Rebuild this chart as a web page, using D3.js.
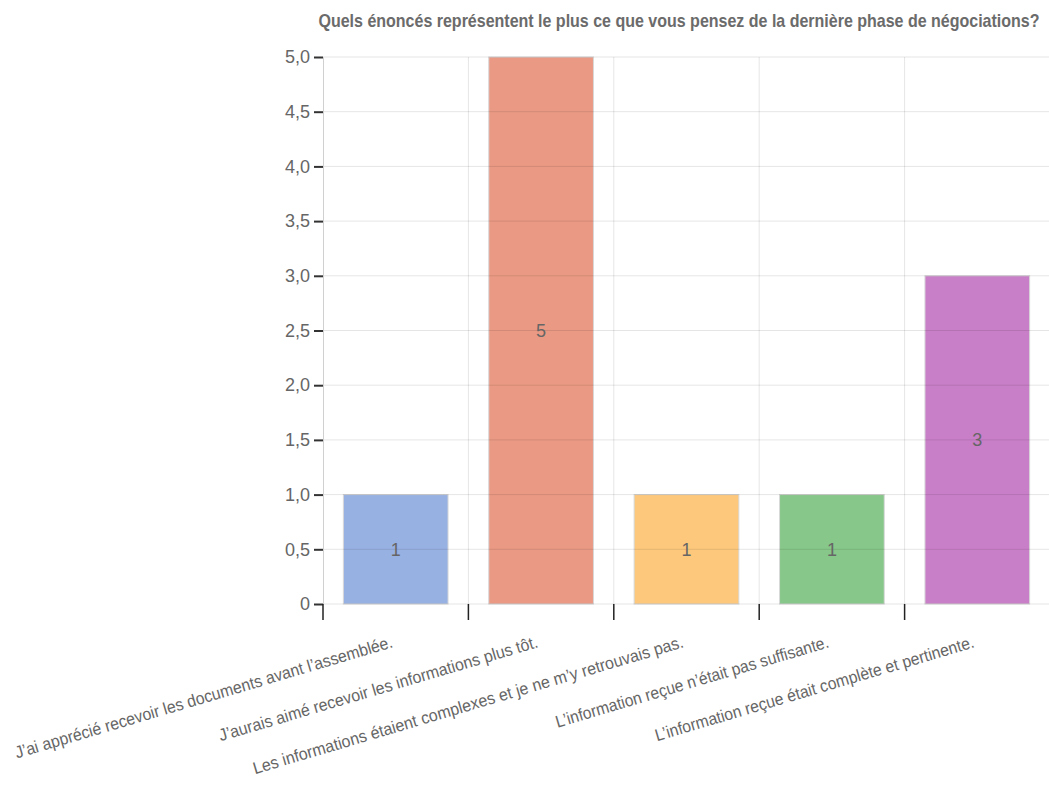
<!DOCTYPE html>
<html>
<head>
<meta charset="utf-8">
<script src="https://cdn.jsdelivr.net/npm/d3@7"></script>
<style>
  html, body { margin: 0; padding: 0; background: #fff; }
  svg { display: block; font-family: 'Liberation Sans Narrow', 'Arial Narrow', 'Liberation Sans', sans-serif; }
</style>
</head>
<body>
<svg id="chart" width="1049" height="786"></svg>
<script>
const title = "Quels énoncés représentent le plus ce que vous pensez de la dernière phase de négociations?";
const categories = [
  "J\u2019ai apprécié recevoir les documents avant l\u2019assemblée.",
  "J\u2019aurais aimé recevoir les informations plus tôt.",
  "Les informations étaient complexes et je ne m\u2019y retrouvais pas.",
  "L\u2019information reçue n\u2019était pas suffisante.",
  "L\u2019information reçue était complète et pertinente."
];
const values = [1, 5, 1, 1, 3];
const colors = ["#98b1e3", "#ea9a84", "#fdc87c", "#87c789", "#c97fc8"];
const yTicks = [0, 0.5, 1, 1.5, 2, 2.5, 3, 3.5, 4, 4.5, 5];
const labelLengths = [393, 332, 448, 284, 332];

(function draw() {
const svg = d3.select("#chart");
const pLeft = 323, pRight = 1050, pTop = 57, pBottom = 604;

const x = d3.scaleBand().domain(categories).range([pLeft, pRight]).paddingInner(0.28).paddingOuter(0.14);
const y = d3.scaleLinear().domain([0, 5]).range([pBottom, pTop]);
const step = x.step();
const fmt = v => v === 0 ? "0" : d3.format(".1f")(v).replace(".", ",");
const fontFam = "'Liberation Sans Narrow', 'Arial Narrow', 'Liberation Sans', sans-serif";

// title (condensed horizontally via scale to fit 317..1041)
const titleG = svg.append("g");
const titleT = titleG.append("text")
  .attr("x", 0).attr("y", 0)
  .attr("text-anchor", "middle")
  .attr("font-size", 18).attr("font-weight", "bold")
  .attr("fill", "#6b6b6b")
  .text(title);
const natural = titleT.node().getComputedTextLength() || 722;
const sx = Math.min(1, 722 / natural);
titleG.attr("transform", `translate(679,27) scale(${sx},1)`);

// bars
svg.append("g").selectAll("rect").data(values).join("rect")
  .attr("x", (d, i) => x(categories[i]))
  .attr("y", d => y(d))
  .attr("width", x.bandwidth())
  .attr("height", d => y(0) - y(d))
  .attr("fill", (d, i) => colors[i])
  .attr("stroke", "#d8d8d8").attr("stroke-width", 1);

// horizontal grid (drawn over bars, translucent)
svg.append("g").selectAll("line").data(yTicks).join("line")
  .attr("x1", pLeft).attr("x2", pRight)
  .attr("y1", d => y(d)).attr("y2", d => y(d))
  .attr("stroke", "rgba(0,0,0,0.1)").attr("stroke-width", 1);

// vertical grid at band boundaries
const bounds = d3.range(categories.length).map(i => pLeft + i * step);
svg.append("g").selectAll("line").data(bounds.slice(1)).join("line")
  .attr("x1", d => d).attr("x2", d => d)
  .attr("y1", pTop).attr("y2", pBottom)
  .attr("stroke", "rgba(0,0,0,0.1)").attr("stroke-width", 1);

// y axis
const yAxis = svg.append("g").attr("transform", `translate(${pLeft},0)`)
  .call(d3.axisLeft(y).tickValues(yTicks).tickFormat(fmt).tickSize(9).tickPadding(4));
yAxis.select(".domain").attr("stroke", "#d0d0d0");
yAxis.selectAll(".tick line").attr("stroke", "#333").attr("stroke-width", 2);
yAxis.selectAll(".tick text").attr("fill", "#666").attr("font-size", 18)
  .attr("font-family", fontFam);

// x axis ticks at band boundaries
svg.append("g").selectAll("line").data(bounds).join("line")
  .attr("x1", d => d).attr("x2", d => d)
  .attr("y1", pBottom).attr("y2", pBottom + 16)
  .attr("stroke", "#222").attr("stroke-width", 1.5);

// x labels
svg.append("g").selectAll("text").data(categories).join("text")
  .attr("transform", d => `translate(${x(d) + x.bandwidth() / 2 - 2},647) rotate(-16.5)`)
  .attr("text-anchor", "end")
  .attr("font-size", 17).attr("fill", "#666")
  .attr("textLength", (d, i) => labelLengths[i]).attr("lengthAdjust", "spacingAndGlyphs")
  .text(d => d);

// value labels
svg.append("g").selectAll("text").data(values).join("text")
  .attr("x", (d, i) => x(categories[i]) + x.bandwidth() / 2)
  .attr("y", d => (y(d) + y(0)) / 2)
  .attr("dy", "0.35em")
  .attr("text-anchor", "middle")
  .attr("font-size", 18).attr("fill", "#666")
  .text(d => d);
})();
</script>
</body>
</html>
